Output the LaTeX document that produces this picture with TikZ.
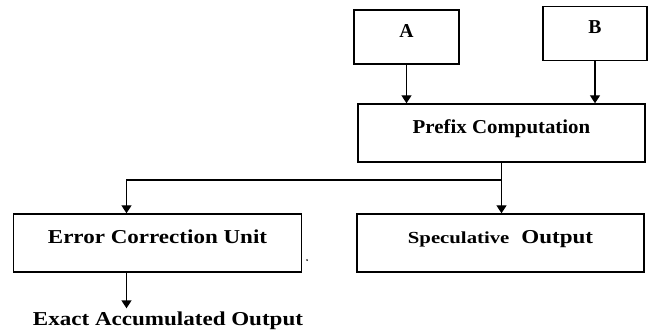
\documentclass[tikz,border=0pt]{standalone}
\usepackage{fontspec}
\setmainfont{Liberation Serif}
\newfontfamily\prefixfont[FakeStretch=1.06]{Liberation Serif}
\newfontfamily\widefont[FakeStretch=1.17]{Liberation Serif}
\newfontfamily\specfont[FakeStretch=1.23]{Liberation Serif}
\usetikzlibrary{positioning, arrows.meta}

\begin{document}
\begin{tikzpicture}[x=0.025cm, y=-0.025cm, line width=1pt,
  >={Triangle[width=0.25cm,length=0.2cm]},
  block/.style={draw, font=\bfseries\fontsize{14}{16}\selectfont,
    text height=0.3cm, text depth=0.3cm,
    minimum width=7.175cm, minimum height=1.45cm},
  wide/.style={font=\widefont\bfseries\fontsize{14}{16}\selectfont}]

\useasboundingbox (0,0) rectangle (649,330);

\node[block, minimum width=2.625cm, minimum height=1.35cm] (A) at (406.5,37) {A};
\node[block, minimum width=2.6cm, minimum height=1.35cm] (B) at (595,33.7) {B};
\node[block, font=\prefixfont\bfseries\fontsize{14}{16}\selectfont] (P) at (501.5,133) {Prefix Computation};
\node[block, wide, minimum width=7.2cm] (E) at (157.5,243) {Error Correction Unit};
\node[block, wide] (S) at (500.5,243) {{\specfont\bfseries\fontsize{12}{14}\selectfont Speculative}\hspace{0.3cm}Output};
\node[wide, text height=0.3cm, inner sep=0.1cm,
  anchor=base] (X) at (168,325) {Exact Accumulated Output};
\node[circle, fill, inner sep=0.5pt] (dot) at (307,260) {};

\coordinate (bend) at (126.5,180);

\draw[->] (A.south) -- (A.south |- P.north);
\draw[->] (B.south) -- (B.south |- P.north);
\draw[->] (P.south) -- (P.south |- S.north);
\draw[->] (P.south |- bend) -- (bend) -- (bend |- E.north);
\draw[->] (bend |- E.south) -- (bend |- X.north);
\end{tikzpicture}
\end{document}
